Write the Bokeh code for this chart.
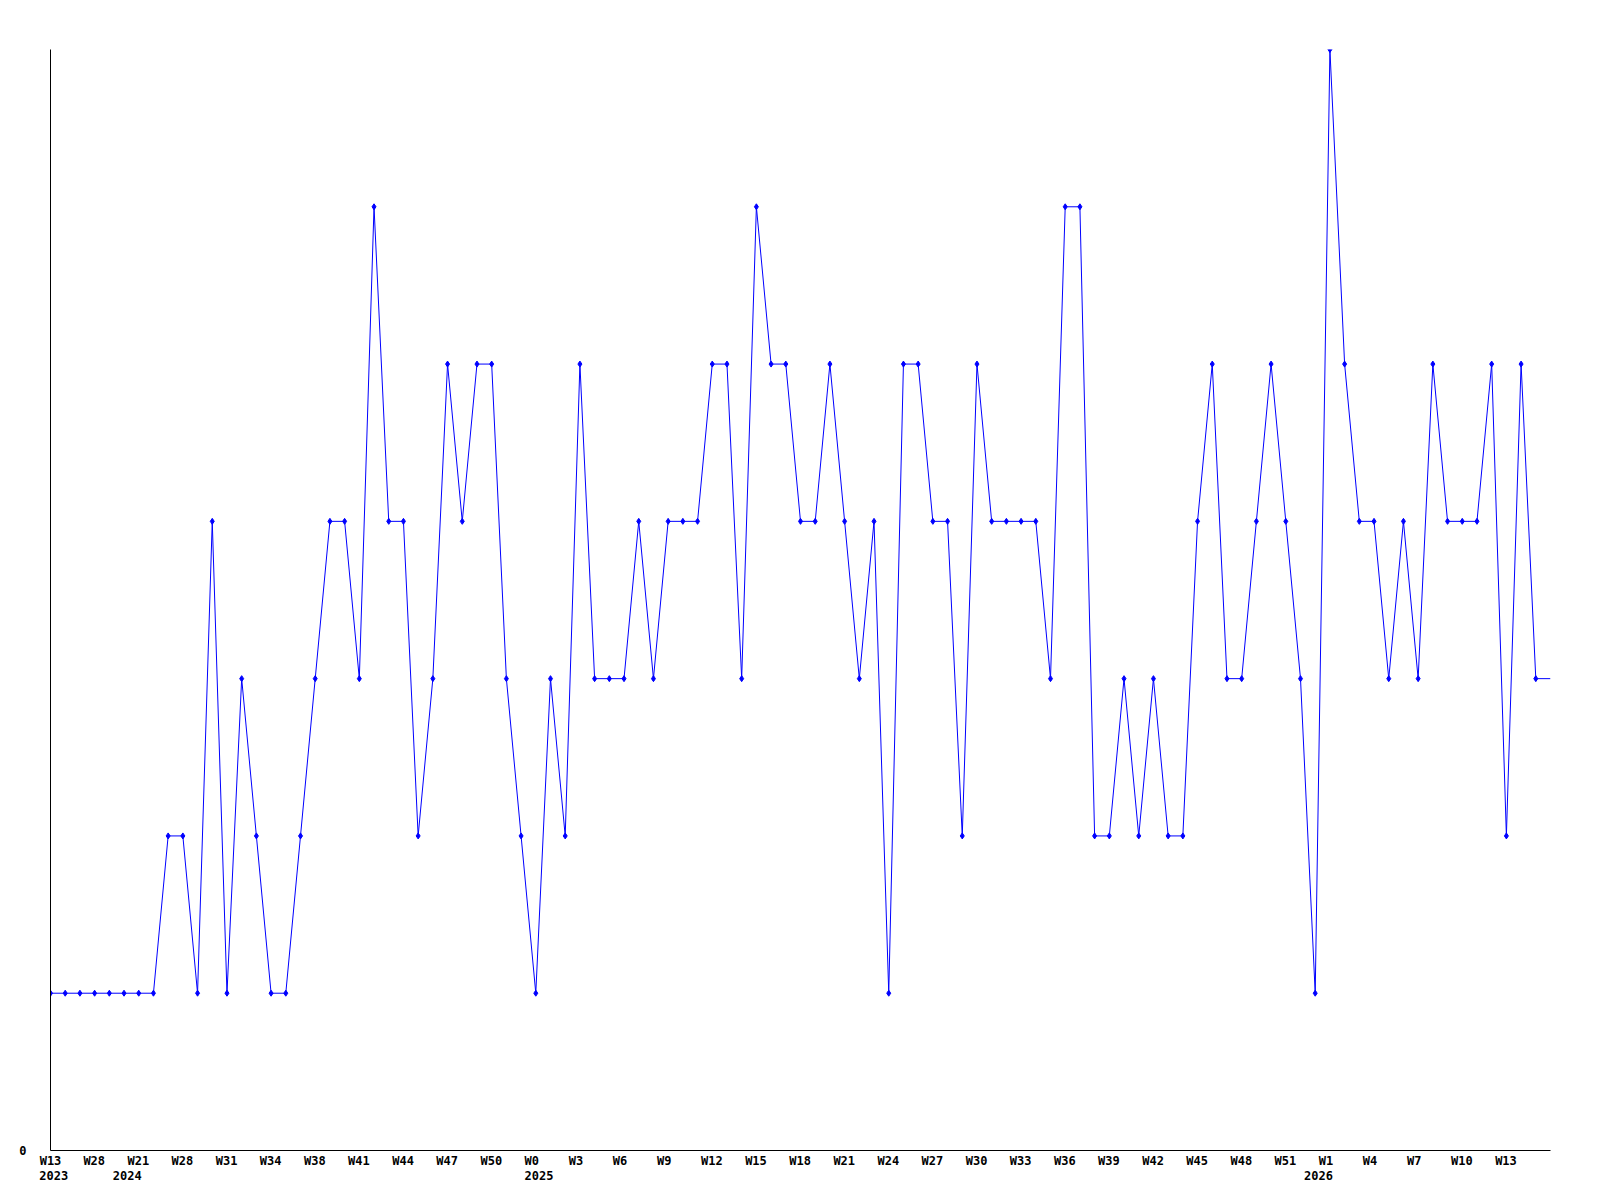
from bokeh.plotting import figure
from bokeh.models import FixedTicker, LinearAxis, Range1d, ColumnDataSource
from bokeh.embed import file_html
from bokeh.resources import INLINE

# ---- data (weekly counts) ----
values = [1, 1, 1, 1, 1, 1, 1, 1, 2, 2,
          1, 4, 1, 3, 2, 1, 1, 2, 3, 4,
          4, 3, 6, 4, 4, 2, 3, 5, 4, 5,
          5, 3, 2, 1, 3, 2, 5, 3, 3, 3,
          4, 3, 4, 4, 4, 5, 5, 3, 6, 5,
          5, 4, 4, 5, 4, 3, 4, 1, 5, 5,
          4, 4, 2, 5, 4, 4, 4, 4, 3, 6,
          6, 2, 2, 3, 2, 3, 2, 2, 4, 5,
          3, 3, 4, 5, 4, 3, 1, 7, 5, 4,
          4, 3, 4, 3, 5, 4, 4, 4, 5, 2,
          5, 3]
last_value = 3  # current (partial) week, drawn without marker

week_labels = ["W13", "W28", "W21", "W28", "W31", "W34", "W38", "W41", "W44",
               "W47", "W50", "W0", "W3", "W6", "W9", "W12", "W15", "W18", "W21",
               "W24", "W27", "W30", "W33", "W36", "W39", "W42", "W45", "W48",
               "W51", "W1", "W4", "W7", "W10", "W13"]
week_label_pos = [i * 3 for i in range(len(week_labels))]
year_labels = ["2023", "2024", "2025", "2026"]
year_label_pos = [0, 5, 33, 86]
y_max = 7

# ---- geometry ----
W, H = 1590, 1190
FL, FT = 50, 49
FW, FH = 1500, 1101
FR, FB = W - FL - FW, H - FT - FH
n = len(values)
x_end = n  # last (partial) point sits on the right edge
px_per_unit = FW / x_end

xs = list(range(n))
src_pts = ColumnDataSource(dict(x=xs, y=values))
src_line = ColumnDataSource(dict(x=xs + [n], y=values + [last_value]))

p = figure(width=W, height=H, output_backend="svg", toolbar_location=None,
           x_range=Range1d(0, x_end), y_range=Range1d(0, y_max),
           x_axis_location=None, y_axis_location=None,
           min_border_left=FL, min_border_right=FR,
           min_border_top=FT, min_border_bottom=FB)
p.outline_line_color = None
p.grid.visible = False
p.background_fill_color = "white"
p.border_fill_color = "white"

p.line("x", "y", source=src_line, line_color="#0000ff", line_width=1)
p.scatter("x", "y", source=src_pts, marker="diamond", size=6,
          fill_color="#0000ff", line_color="#0000ff")

FONT = "DejaVu Sans Mono"
FSIZE = "12px"
CHAR_W = 7.2
LEFT_OFF = -11.2  # labels start this many px left of their point


def centered(pos, label):
    off_px = LEFT_OFF + len(label) * CHAR_W / 2
    return max(0.0, round(pos + off_px / px_per_unit, 4))


def style(ax, standoff):
    ax.major_tick_line_color = None
    ax.minor_tick_line_color = None
    ax.major_tick_out = 0
    ax.major_tick_in = 0
    ax.major_label_standoff = standoff
    ax.major_label_text_font = FONT
    ax.major_label_text_font_size = FSIZE
    ax.major_label_text_font_style = "bold"
    ax.major_label_text_color = "black"


# x axis: week labels
wt = [centered(pp, l) for pp, l in zip(week_label_pos, week_labels)]
xa = LinearAxis(ticker=FixedTicker(ticks=wt),
                major_label_overrides={t: l for t, l in zip(wt, week_labels)})
xa.axis_line_color = "black"
xa.axis_line_width = 1
style(xa, 3)
p.add_layout(xa, "below")

# x axis second row: years
yt = [centered(pp, l) for pp, l in zip(year_label_pos, year_labels)]
xa2 = LinearAxis(ticker=FixedTicker(ticks=yt),
                 major_label_overrides={t: l for t, l in zip(yt, year_labels)})
xa2.axis_line_color = None
style(xa2, 0)
p.add_layout(xa2, "below")

# y axis: only the zero label
yax = LinearAxis(ticker=FixedTicker(ticks=[0]), major_label_overrides={0: "0"})
yax.axis_line_color = "black"
style(yax, 24)
p.add_layout(yax, "left")

open("out.html", "w").write(file_html(p, INLINE))
